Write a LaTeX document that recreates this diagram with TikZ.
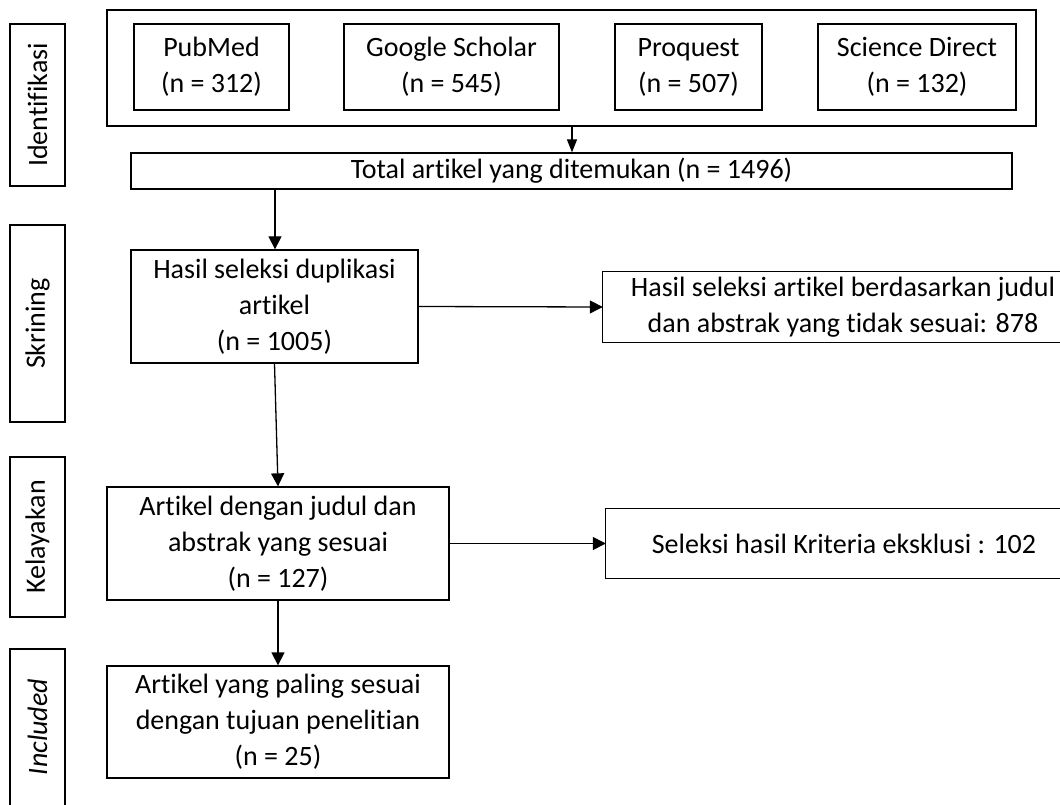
\documentclass[tikz,border=0pt]{standalone}
\usepackage{fontspec}
\setmainfont{Carlito}[Ligatures={NoCommon}]
\usetikzlibrary{arrows.meta}
\begin{document}
\begin{tikzpicture}[x=1pt,y=-1pt,
  txt/.style={font=\fontsize{28}{36}\selectfont,text=black},
  box/.style={txt,draw=black,line width=1.3pt,fill=white,inner sep=0pt,align=center},
  openbox/.style={txt,inner sep=0pt,align=center},
  edge/.style={line width=1.3pt},
  stage/.style={draw=black,line width=1.3pt,inner sep=0pt},
  arr/.style={line width=1.3pt,-{Triangle[length=13pt,width=13pt]}},
  arrs/.style={line width=1.3pt,-{Triangle[length=13pt,width=10pt]}}]
\useasboundingbox (0,0) rectangle (1060,805);
\clip (0,0) rectangle (1060,805);
% stage labels
\node[stage,minimum width=55pt,minimum height=162pt] (s1) at (37.5,105) {};
\node[txt,rotate=90] (t1) at (s1.center) {Identifikasi};
\node[stage,minimum width=55pt,minimum height=197pt] (s2) at (37.5,323.5) {};
\node[txt,rotate=90] (t2) at (s2.center) {Skrining};
\node[stage,minimum width=55pt,minimum height=160pt] (s3) at (37.5,537) {};
\node[txt,rotate=90] (t3) at (s3.center) {Kelayakan};
\node[stage,minimum width=55pt,minimum height=164pt] (s4) at (37.5,731) {};
\node[txt,rotate=90,font=\fontsize{28}{36}\selectfont\itshape] (t4) at (37.5,727) {Included};
% identification
\node[box,minimum width=929pt,minimum height=116pt] (outer) at (571.5,68) {};
\node[box,minimum width=155pt,minimum height=86pt] (pm) at (211.5,67) {PubMed\\(n = 312)};
\node[box,minimum width=215pt,minimum height=86pt] (gs) at (451.5,67) {Google Scholar\\(n = 545)};
\node[box,minimum width=147pt,minimum height=86pt] (pq) at (688.5,67) {Proquest\\(n = 507)};
\node[box,minimum width=198pt,minimum height=86pt] (sd) at (917,67) {Science Direct\\(n = 132)};
\node[box,minimum width=881pt,minimum height=36pt] (tot) at (571.5,171) {Total artikel yang ditemukan (n = 1496)};
% screening
\node[box,minimum width=287pt,minimum height=113pt] (dup) at (274.5,306.5) {Hasil seleksi duplikasi\\artikel\\(n = 1005)};
\node[openbox,minimum width=480pt,minimum height=70pt] (ex1) at (843,307) {Hasil seleksi artikel berdasarkan judul\\dan abstrak yang tidak sesuai: 878};
\draw[edge] (ex1.north east) -- (ex1.north west) -- (ex1.south west) -- (ex1.south east);
% eligibility
\node[box,minimum width=342pt,minimum height=113pt] (elig) at (278,543.5) {Artikel dengan judul dan\\abstrak yang sesuai\\(n = 127)};
\node[openbox,minimum width=476pt,minimum height=69pt] (ex2) at (844,543.5) {Seleksi hasil Kriteria eksklusi : 102};
\draw[edge] (ex2.north east) -- (ex2.north west) -- (ex2.south west) -- (ex2.south east);
% included
\node[box,minimum width=342pt,minimum height=112pt] (inc) at (278,722) {Artikel yang paling sesuai\\dengan tujuan penelitian\\(n = 25)};
% connectors
\draw[arrs] (outer.south -| tot.north) ++(0.5,0) coordinate (a0) -- (a0 |- tot.north);
\draw[arr] (dup.north |- tot.south) ++(0.5,0) coordinate (a1) -- (a1 |- dup.north);
\draw[arr] (dup.east) -- (ex1.west);
\draw[arr] (dup.south) -- (elig.north);
\draw[arr] (elig.east) -- (ex2.west);
\draw[arr] (elig.south) -- (inc.north);
\end{tikzpicture}
\end{document}
